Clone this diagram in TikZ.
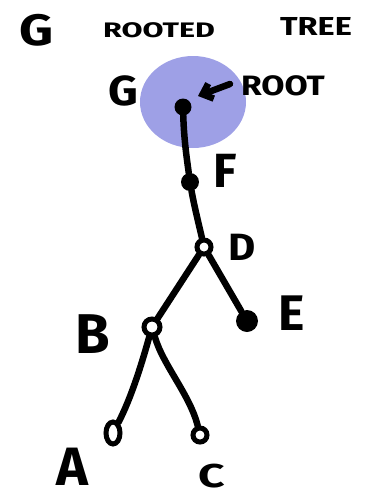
\documentclass[tikz,border=0pt]{standalone}
\usepackage{fontspec}
\setmainfont{Fira Sans}
\usetikzlibrary{arrows.meta,shapes.geometric}
\definecolor{blob}{RGB}{158,160,230}
\tikzset{
  edge/.style={line width=6.5pt, line cap=round, black},
  opennode/.style={circle, draw=black, line width=5pt, fill=white, minimum size=14pt, inner sep=0pt},
  fullnode/.style={circle, fill=black, minimum size=18pt, inner sep=0pt},
  lbl/.style={font=\fontsize{#1}{#1}\selectfont\bfseries, inner sep=0pt, text=black, anchor=base},
}
\begin{document}
\begin{tikzpicture}[x=1pt,y=-1pt]
\useasboundingbox (0,0) rectangle (381,499);
% title
\node[lbl=44, xscale=1.2] (tg) at (37,45) {G};
\node[lbl=21, xscale=1.45] (troot) at (159,37) {ROOTED};
\node[lbl=26, xscale=1.25] (ttree) at (316,35) {TREE};
% blob
\fill[blob] (193,102) ellipse [x radius=53, y radius=46];
% nodes
\node[fullnode, minimum size=17pt] (G) at (183,107) {};
\node[fullnode, minimum size=18pt] (F) at (190,182) {};
\node[opennode] (D) at (204,247) {};
\node[opennode, minimum size=16pt] (B) at (152,327) {};
\node[fullnode, minimum size=22pt] (E) at (247,321) {};
\node[opennode, ellipse, minimum width=14pt, minimum height=22pt] (A) at (113,433) {};
\node[opennode] (C) at (200,435) {};
% labels
\node[lbl=42, xscale=1.1] (lg) at (123,105) {G};
\node[lbl=28, xscale=1.2] (lroot) at (283,95) {ROOT};
\node[lbl=48] (lf) at (225,187) {F};
\node[lbl=38, xscale=1.1] (ld) at (242,260) {D};
\node[lbl=56] (lb) at (93,353) {B};
\node[lbl=50] (le) at (292,330) {E};
\node[lbl=54] (la) at (72,485) {A};
\node[lbl=33, xscale=1.4] (lc) at (212,487) {C};
% arrow
\coordinate (at) at (230,84);
\draw[edge, -{Straight Barb[length=9pt,width=16pt]}] (at) -- (198,96);
% edges
\draw[edge] (G) .. controls (184,140) and (187,160) .. (F);
\draw[edge] (F) .. controls (194,205) and (199,225) .. (D);
\draw[edge] (D) -- (B);
\draw[edge] (D) -- (E);
\draw[edge] (B) .. controls (140,370) and (130,400) .. (A);
\draw[edge] (B) .. controls (163,365) and (190,395) .. (C);
\end{tikzpicture}
\end{document}
